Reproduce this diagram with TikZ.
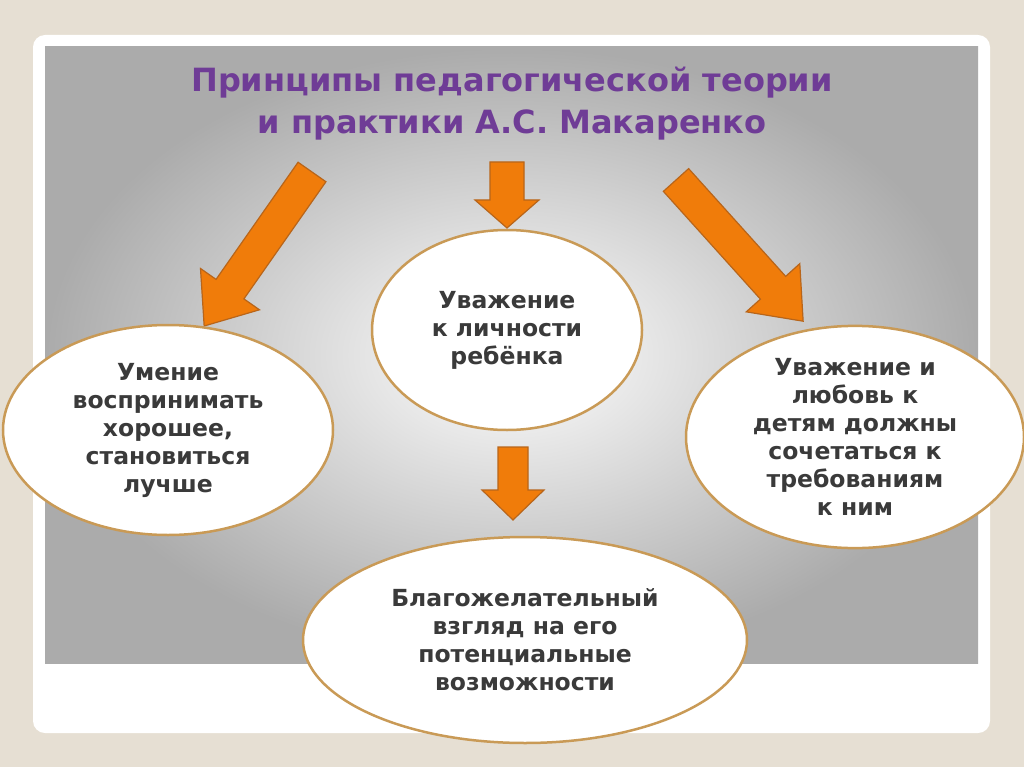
\documentclass[tikz,border=0pt]{standalone}
\usepackage{fontspec}
\setmainfont{DejaVu Sans}
\usetikzlibrary{shapes.geometric,shadings}
\definecolor{frame}{HTML}{E6DFD3}
\definecolor{ttl}{HTML}{6F3C96}
\definecolor{ring}{HTML}{C99A56}
\definecolor{org}{HTML}{F07C0A}
\definecolor{orgd}{HTML}{B8651A}
\definecolor{txt}{HTML}{3A3A3A}
\tikzset{
  oval/.style={ellipse,draw=ring,line width=2.5pt,fill=white,align=center,
    text=txt,font=\fontsize{23.5}{28}\selectfont\bfseries,inner sep=0pt},
  barrow/.style={draw=orgd,line width=1.2pt,fill=org,line join=miter}
}
% #1 length, #2 half shaft, #3 half head, #4 head length
\newcommand\blockarr[4]{\path[barrow] (0,-#2) -- (#1-#4,-#2) -- (#1-#4,-#3) -- (#1,0) -- (#1-#4,#3) -- (#1-#4,#2) -- (0,#2) -- cycle;}
\begin{document}
\begin{tikzpicture}[x=1pt,y=-1pt]
\useasboundingbox (0,0) rectangle (1024,767);
\fill[frame] (0,0) rectangle (1024,767);
\fill[white,rounded corners=12pt] (33,35) rectangle (990,733);
\shade[inner color=white,outer color=black!33] (45,47) rectangle (978,663);
\node[text=ttl,font=\fontsize{32}{42}\selectfont\bfseries,align=center] (title) at (512,104)
  {Принципы педагогической теории\\и практики А.С. Макаренко};
\begin{scope}[shift={(312,172)},rotate=235,y=1pt]\blockarr{188}{17}{36}{45}\end{scope}
\begin{scope}[shift={(676,180)},rotate=-48,y=1pt]\blockarr{190}{17}{36}{45}\end{scope}
\begin{scope}[shift={(507,162)},rotate=-90,y=1pt]\blockarr{66}{17}{32}{28}\end{scope}
\begin{scope}[shift={(513,447)},rotate=-90,y=1pt]\blockarr{73}{15}{31}{30}\end{scope}
\node[oval,minimum width=330pt,minimum height=210pt] (l) at (168,430)
  {Умение\\воспринимать\\хорошее,\\становиться\\лучше};
\node[oval,minimum width=270pt,minimum height=200pt] (c) at (507,330)
  {Уважение\\к личности\\ребёнка};
\node[oval,minimum width=338pt,minimum height=216pt] (r) at (855,437)
  {Уважение и\\любовь к\\детям должны\\сочетаться к\\требованиям\\к ним};
\node[oval,minimum width=444pt,minimum height=206pt] (b) at (525,640)
  {Благожелательный\\взгляд на его\\потенциальные\\возможности};
\end{tikzpicture}
\end{document}
